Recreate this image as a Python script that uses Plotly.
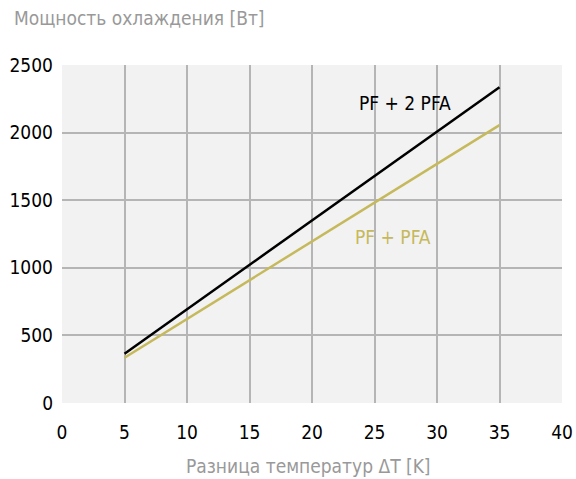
import plotly.graph_objects as go

# Data
delta_t = [5, 35]
pf_2pfa = [365, 2335]
pf_pfa = [335, 2055]
x_ticks = [0, 5, 10, 15, 20, 25, 30, 35, 40]
y_ticks = [0, 500, 1000, 1500, 2000, 2500]

FONT = "DejaVu Sans Condensed, Liberation Sans Narrow, Roboto, sans-serif"
OLIVE = "#c6b95c"
L, R, T, B = 62, 14, 65, 76
PW, PH = 576 - L - R, 479 - T - B

fig = go.Figure()
fig.add_trace(go.Scatter(x=delta_t, y=pf_2pfa, mode="lines",
                         line=dict(color="#000000", width=2.5), name="PF + 2 PFA"))
fig.add_trace(go.Scatter(x=delta_t, y=pf_pfa, mode="lines",
                         line=dict(color=OLIVE, width=2.5), name="PF + PFA"))

fig.add_annotation(x=27.4, y=2219, text="PF + 2 PFA", showarrow=False,
                   font=dict(family=FONT, size=19, color="#000000"))
fig.add_annotation(x=26.5, y=1228, text="PF + PFA", showarrow=False,
                   font=dict(family=FONT, size=19, color=OLIVE))

fig.add_annotation(xref="paper", yref="paper", x=(12 - L) / PW, y=1 + (T - 18) / PH,
                   xanchor="left", yanchor="middle", text="Мощность охлаждения [Вт]",
                   showarrow=False, font=dict(family=FONT, size=19, color="#999999"))
fig.add_annotation(xref="paper", yref="paper", x=(308 - L) / PW, y=-(466 - (T + PH)) / PH,
                   xanchor="center", yanchor="middle", text="Разница температур ΔT [K]",
                   showarrow=False, font=dict(family=FONT, size=19, color="#999999"))

fig.update_layout(
    width=576, height=479,
    margin=dict(l=L, r=R, t=T, b=B, autoexpand=False),
    paper_bgcolor="#ffffff", plot_bgcolor="#f2f2f2",
    showlegend=False,
    font=dict(family=FONT, size=19, color="#000000"),
)
fig.update_xaxes(range=[0, 40], tickvals=x_ticks, showgrid=True, gridcolor="#b5b5b5",
                 gridwidth=1.5, zeroline=False, showline=False, ticks="",
                 ticklabelstandoff=16, automargin=False)
fig.update_yaxes(range=[0, 2500], tickvals=y_ticks, showgrid=True, gridcolor="#b5b5b5",
                 gridwidth=1.5, zeroline=False, showline=False, ticks="",
                 ticklabelstandoff=8, automargin=False)

fig.write_html("out.html", config={"displayModeBar": False},
               post_script="document.body.style.margin='0';document.body.style.overflow='hidden';")
